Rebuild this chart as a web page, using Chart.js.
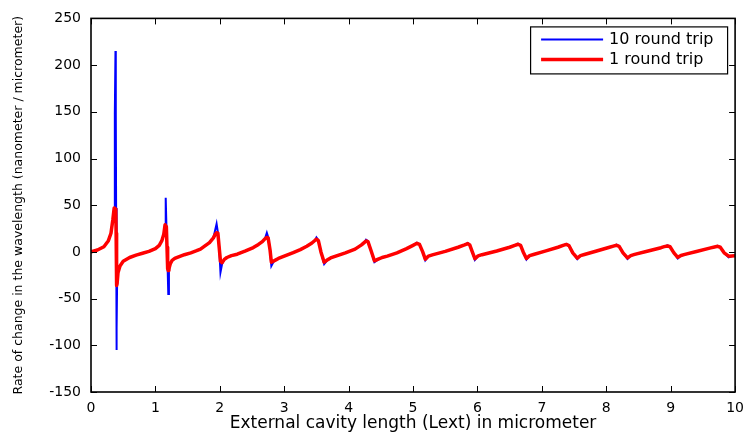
<!DOCTYPE html>
<html>
<head>
<meta charset="utf-8">
<script src="https://cdn.jsdelivr.net/npm/chart.js@4/dist/chart.umd.min.js"></script>
<style>
html,body{margin:0;padding:0;background:#fff;}
canvas{display:block;}
</style>
</head>
<body>
<canvas id="c" width="752" height="434"></canvas>
<script>
// External cavity length (micrometer)
const xValues = [
  0, 0.1, 0.2, 0.27, 0.31, 0.34, 0.36, 0.37, 0.38, 0.385, 0.39, 0.395, 0.40, 0.405, 0.42, 0.45, 0.5, 0.6, 0.7, 0.8, 0.9, 1.0, 1.06, 1.1, 1.13,
  1.15, 1.16, 1.17, 1.18, 1.19, 1.2, 1.21, 1.23, 1.26, 1.3, 1.37, 1.45, 1.55, 1.63, 1.7, 1.78, 1.84, 1.9,
  1.93, 1.95, 1.97, 1.99, 2.01, 2.035, 2.07, 2.11, 2.18, 2.27, 2.4, 2.52, 2.6, 2.66, 2.7,
  2.73, 2.75, 2.78, 2.80, 2.83, 2.87, 2.91, 3.0, 3.14, 3.25, 3.35, 3.43, 3.48,
  3.50, 3.53, 3.57, 3.62, 3.66, 3.72, 3.8, 3.95, 4.1, 4.2, 4.25,
  4.27, 4.3, 4.35, 4.40, 4.45, 4.52, 4.6, 4.75, 4.9, 5.0,
  5.06, 5.1, 5.15, 5.19, 5.24, 5.3, 5.5, 5.7, 5.8,
  5.85, 5.88, 5.92, 5.96, 6.01, 6.07, 6.3, 6.5, 6.58,
  6.63, 6.67, 6.71, 6.76, 6.81, 6.87, 7.05, 7.25, 7.33,
  7.38, 7.42, 7.48, 7.55, 7.6, 7.66, 7.85, 8.05, 8.11,
  8.16, 8.2, 8.26, 8.33, 8.38, 8.44, 8.65, 8.85, 8.9,
  8.95, 8.99, 9.05, 9.11, 9.16, 9.22, 9.4, 9.62, 9.68,
  9.73, 9.77, 9.83, 9.9, 9.95, 10
];

// 10 round trip (blue)
const tenRoundTrip = [
  0, 2, 5.5, 12, 20, 35, 47, 148, 215, 148, 47, -105, -82, -36, -22, -15, -10, -6, -3.5, -1.5, 0.5, 3.5, 7, 12, 19,
  29, 58, 30, 5, -18, -45, -20, -13, -9, -7, -5, -3, -1, 1, 3, 7, 10, 15,
  24, 30, 21, 5, -22, -13, -8, -6, -4, -2.5, 1, 4.6, 8, 11, 14,
  20.5, 16, 2, -15, -11, -8.5, -7, -4.5, -0.7, 2.5, 6, 9.5, 12.5,
  15.5, 12.5, 0, -13, -9.5, -6.5, -4.5, -1, 3, 7.5, 10.5,
  13, 11.5, 1, -11, -8.5, -6, -4.5, -1, 3.5, 7,
  9.8, 8, 0, -9, -4.5, -3.2, 0.5, 5, 7.5,
  9.5, 7.5, 0, -8.5, -4.3, -3, 1, 5, 7,
  8.8, 7, 0, -8.3, -4, -2.8, 0.8, 5, 7,
  8.6, 6.8, -1, -7.8, -4, -2.8, 1, 5, 6.2,
  7.7, 6, -1, -7.6, -4, -2.7, 1, 4.5, 5.6,
  7, 5.5, -1, -7, -3.8, -2.7, 0.5, 4.3, 5.3,
  6.6, 5, -1, -5.8, -4.5, -4.2
];

// 1 round trip (red)
const oneRoundTrip = [
  0, 2, 5.5, 12, 20, 35, 47, 47, 46, 44, 20, -10, -36, -34, -22, -15, -10, -6, -3.5, -1.5, 0.5, 3.5, 7, 12, 19,
  29, 29, 27, 5, -18, -20, -18, -13, -9, -7, -5, -3, -1, 1, 3, 7, 10, 15,
  19, 20.5, 20, 5, -10, -11.5, -8, -6, -4, -2.5, 1, 4.6, 8, 11, 14,
  15.5, 15, 2, -11, -10, -8.5, -7, -4.5, -0.7, 2.5, 6, 9.5, 12.5,
  13.5, 12, 0, -11, -9, -6.5, -4.5, -1, 3, 7.5, 10.5,
  11.7, 11, 1, -9.5, -8, -6, -4.5, -1, 3.5, 7,
  9.2, 8, 0, -7.8, -4.5, -3.2, 0.5, 5, 7.5,
  8.9, 7.5, 0, -7.3, -4.3, -3, 1, 5, 7,
  8.2, 7, 0, -7.1, -4, -2.8, 0.8, 5, 7,
  8, 6.8, -1, -6.6, -4, -2.8, 1, 5, 6.2,
  7.1, 6, -1, -6.4, -4, -2.7, 1, 4.5, 5.6,
  6.4, 5.5, -1, -5.8, -3.8, -2.7, 0.5, 4.3, 5.3,
  6, 5, -1, -4.6, -4.3, -4.2
];

const xTicks = [0, 1, 2, 3, 4, 5, 6, 7, 8, 9, 10];
const yTicks = [-150, -100, -50, 0, 50, 100, 150, 200, 250];
const seriesNames = ['10 round trip', '1 round trip'];
const seriesColors = ['#0000ff', '#ff0000'];
const xTitle = 'External cavity length (Lext) in micrometer';
const yTitle = 'Rate of change in the wavelength (nanometer / micrometer)';

const FONT = "'DejaVu Sans', sans-serif";

const framePlugin = {
  id: 'frame',
  afterDatasetsDraw(chart) {
    const {ctx, chartArea: a, scales: {x, y}} = chart;
    ctx.save();
    ctx.strokeStyle = '#000';
    ctx.lineWidth = 1.6;
    ctx.strokeRect(a.left, a.top, a.right - a.left, a.bottom - a.top);
    ctx.lineWidth = 1;
    ctx.beginPath();
    xTicks.forEach(v => {
      const p = Math.round(x.getPixelForValue(v)) + 0.5;
      ctx.moveTo(p, a.bottom); ctx.lineTo(p, a.bottom - 6);
      ctx.moveTo(p, a.top); ctx.lineTo(p, a.top + 6);
    });
    yTicks.forEach(v => {
      const p = Math.round(y.getPixelForValue(v)) + 0.5;
      ctx.moveTo(a.left, p); ctx.lineTo(a.left + 6, p);
      ctx.moveTo(a.right, p); ctx.lineTo(a.right - 6, p);
    });
    ctx.stroke();

    // legend box (MATLAB style)
    const lx = a.right - 205, ly = a.top + 8, lw = 197, lh = 47;
    ctx.fillStyle = '#fff';
    ctx.fillRect(lx, ly, lw, lh);
    ctx.strokeStyle = '#000';
    ctx.lineWidth = 1.2;
    ctx.strokeRect(lx + 0.5, ly + 0.5, lw, lh);
    ctx.font = "16px " + FONT;
    ctx.textBaseline = 'middle';
    ctx.textAlign = 'left';
    seriesNames.forEach((name, i) => {
      const yy = ly + 13 + i * 20;
      ctx.strokeStyle = seriesColors[i];
      ctx.lineWidth = i === 0 ? 2 : 3.5;
      ctx.beginPath();
      ctx.moveTo(lx + 11, yy);
      ctx.lineTo(lx + 73, yy);
      ctx.stroke();
      ctx.fillStyle = '#000';
      ctx.fillText(name, lx + 79, yy);
    });
    ctx.restore();
  }
};

new Chart(document.getElementById('c'), {
  type: 'line',
  data: {
    datasets: [
      {
        label: seriesNames[0],
        data: xValues.map((v, i) => ({x: v, y: tenRoundTrip[i]})),
        borderColor: seriesColors[0],
        borderWidth: 2,
        pointRadius: 0,
        tension: 0,
        fill: false,
        order: 1
      },
      {
        label: seriesNames[1],
        data: xValues.map((v, i) => ({x: v, y: oneRoundTrip[i]})),
        borderColor: seriesColors[1],
        borderWidth: 3.5,
        pointRadius: 0,
        tension: 0,
        fill: false,
        borderJoinStyle: 'round',
        borderCapStyle: 'round',
        order: 0
      }
    ]
  },
  options: {
    responsive: false,
    animation: false,
    devicePixelRatio: 1,
    layout: {padding: {top: 16, right: 11, left: 0, bottom: 0}},
    plugins: {legend: {display: false}, tooltip: {enabled: false}},
    scales: {
      x: {
        type: 'linear',
        min: 0, max: 10,
        afterBuildTicks: s => { s.ticks = xTicks.map(v => ({value: v})); },
        afterFit: s => { s.height = 42; },
        grid: {display: false, drawTicks: false},
        border: {display: false},
        ticks: {font: {family: FONT, size: 14}, color: '#000', padding: 8, maxRotation: 0, autoSkip: false},
        title: {display: true, text: xTitle, color: '#000', font: {family: FONT, size: 17}, padding: {top: 0, bottom: 0}}
      },
      y: {
        type: 'linear',
        min: -150, max: 250,
        afterBuildTicks: s => { s.ticks = yTicks.map(v => ({value: v})); },
        afterFit: s => { s.width = 91; },
        grid: {display: false, drawTicks: false},
        border: {display: false},
        ticks: {font: {family: FONT, size: 14}, color: '#000', padding: 10, autoSkip: false},
        title: {display: true, text: yTitle, color: '#000', font: {family: FONT, size: 12.5}, padding: {top: 11, bottom: 0}}
      }
    }
  },
  plugins: [framePlugin]
});
</script>
</body>
</html>
